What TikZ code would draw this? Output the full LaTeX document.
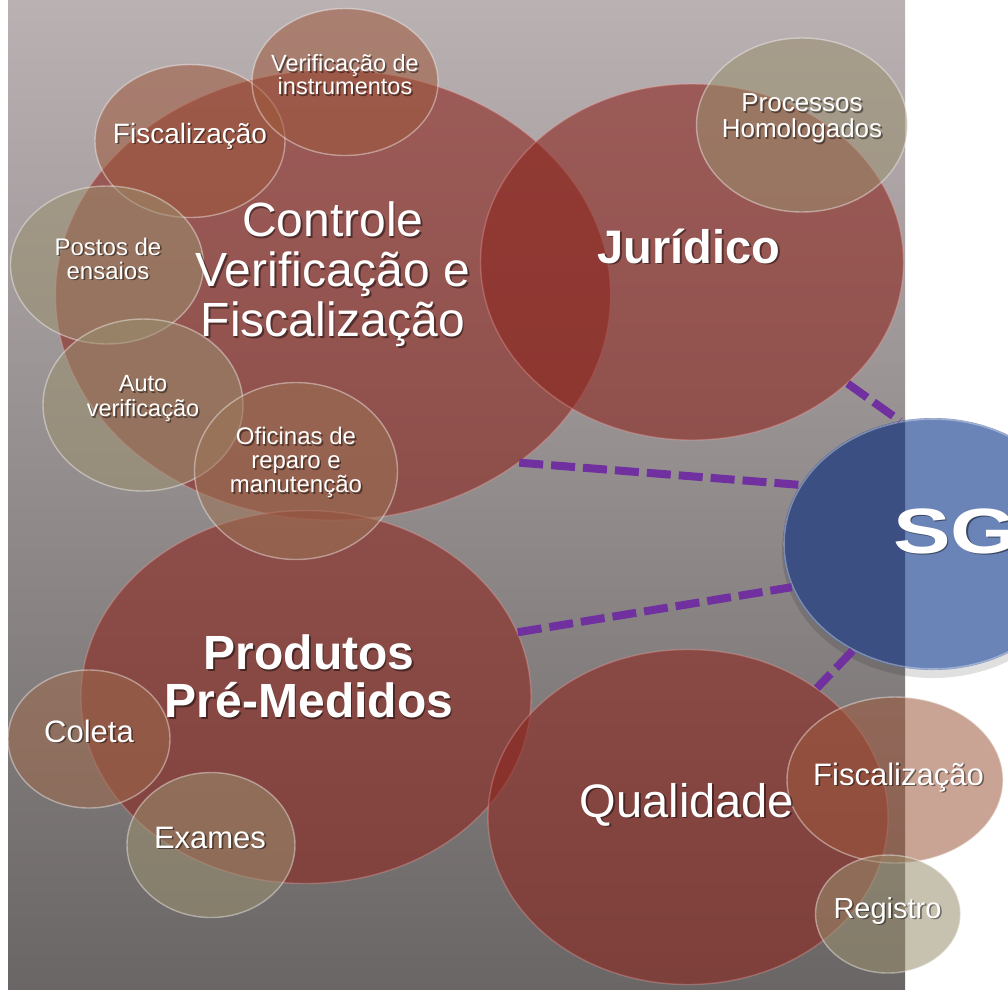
\documentclass[tikz,border=0pt]{standalone}
\usepackage{fontspec}
\usepackage{graphicx}
\setmainfont{Liberation Sans}
\usetikzlibrary{shapes.geometric}
\definecolor{bgtop}{HTML}{BAB1B3}
\definecolor{bgbot}{HTML}{6A6665}
\definecolor{bigred}{HTML}{8C261F}
\definecolor{tanred}{HTML}{9E583C}
\definecolor{beige}{HTML}{9A8F6E}
\definecolor{sgdark}{HTML}{3B4F82}
\definecolor{sglight}{HTML}{6A84B8}
\definecolor{dashpurple}{HTML}{7030A0}
\tikzset{
  big/.style={ellipse, inner sep=0pt, fill=bigred, fill opacity=0.6, draw=white!70!red, draw opacity=0.3, line width=1.4pt},
  small/.style={ellipse, inner sep=0pt, fill opacity=0.55, draw=white, draw opacity=0.4, line width=1.4pt},
  sgbox/.style={ellipse, inner sep=0pt},
  link/.style={draw=dashpurple, line width=8pt, dash pattern=on 24pt off 8pt},
  txt/.style={text=white, inner sep=0pt, align=center},
  txtsh/.style={text=black, text opacity=0.45, inner sep=0pt, align=center, xshift=1.6pt, yshift=-1.6pt},
}
\newcommand{\lbl}[5]{%
  \node[txtsh, anchor=#2, font=#4] (#1s) at (#3) {#5};
  \node[txt, anchor=#2, font=#4] (#1) at (#3) {#5};}
\begin{document}
\begin{tikzpicture}[x=1pt, y=-1pt]
\useasboundingbox (0,0) rectangle (1008,989);
\fill[white] (0,0) rectangle (1008,989);
\shade[top color=bgtop, bottom color=bgbot] (8,0) rectangle (905,989);

% big circles
\node[big, minimum width=555pt, minimum height=450pt] (ctrl) at (333,295) {};
\node[big, minimum width=423pt, minimum height=356pt] (jur) at (692,262) {};
\node[big, minimum width=450pt, minimum height=373pt] (prod) at (306,697) {};
\node[big, minimum width=400pt, minimum height=335pt] (qual) at (688,817) {};

% SG circle
\node[sgbox, minimum width=300pt, minimum height=252pt] (sg) at (933,544) {};
\fill[black, fill opacity=0.12] (933,551) ellipse [x radius=151pt, y radius=127pt];
\fill[sglight] (933,544) ellipse [x radius=150pt, y radius=126pt];
\begin{scope}
  \clip (8,0) rectangle (905,989);
  \fill[sgdark] (933,544) ellipse [x radius=150pt, y radius=126pt];
\end{scope}
\draw[white, draw opacity=0.35, line width=1.6pt] (933,544) ellipse [x radius=149pt, y radius=125pt];

% small circles
\node[small, fill=tanred, minimum width=190pt, minimum height=153pt] (fisc1) at (190,141) {};
\node[small, fill=tanred, minimum width=186pt, minimum height=147pt] (verif) at (345,82) {};
\node[small, fill=beige, minimum width=193pt, minimum height=158pt] (postos) at (107,265) {};
\node[small, fill=beige, minimum width=200pt, minimum height=172pt] (auto) at (143,405) {};
\node[small, fill=tanred!50!beige, minimum width=203pt, minimum height=177pt] (ofic) at (296,471) {};
\node[small, fill=beige, minimum width=211pt, minimum height=174pt] (proc) at (802,125) {};
\node[small, fill=tanred!70!beige, minimum width=162pt, minimum height=138pt] (coleta) at (89,739) {};
\node[small, fill=beige, minimum width=168pt, minimum height=145pt] (exames) at (211,845) {};
\node[small, fill=tanred, minimum width=216pt, minimum height=166pt] (fisc2) at (895,780) {};
\node[small, fill=beige, minimum width=145pt, minimum height=118pt] (reg) at (888,914) {};

% connectors
\draw[link] (jur.-38.6) -- (sg.105.1);
\draw[link] (ctrl.-42.7) -- (sg.156.1);
\draw[link] (prod.17.4) -- (sg.197);
\draw[link] (sg.233.4) -- (qual.45.4);

% labels
\lbl{tctrl}{center}{333,274.5}{\fontsize{48}{50}\selectfont}{Controle\\Verificação e\\Fiscalização}
\lbl{tjur}{base}{689,263}{\fontsize{47}{50}\selectfont\bfseries}{Jurídico}
\lbl{tprod}{center}{309,676.7}{\fontsize{48}{48}\selectfont\bfseries}{Produtos\\Pré-Medidos}
\lbl{tqual}{base}{687,817}{\fontsize{47}{50}\selectfont}{Qualidade}
\lbl{tfisc1}{base}{190,143}{\fontsize{28}{30}\selectfont}{Fiscalização}
\lbl{tverif}{center}{345,74.8}{\fontsize{23.5}{23}\selectfont}{Verificação de\\instrumentos}
\lbl{tpostos}{center}{108,258.5}{\fontsize{24}{24}\selectfont}{Postos de\\ensaios}
\lbl{tauto}{center}{143,398.4}{\fontsize{23.5}{25}\selectfont}{Auto\\verificação}
\lbl{tofic}{center}{296,462.8}{\fontsize{24}{24}\selectfont}{Oficinas de\\reparo e\\manutenção}
\lbl{tproc}{center}{802,118.3}{\fontsize{26}{26}\selectfont}{Processos\\Homologados}
\lbl{tcoleta}{base}{89,742}{\fontsize{31}{33}\selectfont}{Coleta}
\lbl{texames}{base}{210,848}{\fontsize{31}{33}\selectfont}{Exames}
\lbl{tfisc2}{base}{898.5,785}{\fontsize{31}{33}\selectfont}{Fiscalização}
\lbl{treg}{base}{887.5,918}{\fontsize{29}{31}\selectfont}{Registro}
\lbl{tsg}{base west}{893,553}{\fontsize{64}{64}\selectfont\bfseries}{\scalebox{1.35}[1]{SG}}
\end{tikzpicture}
\end{document}
